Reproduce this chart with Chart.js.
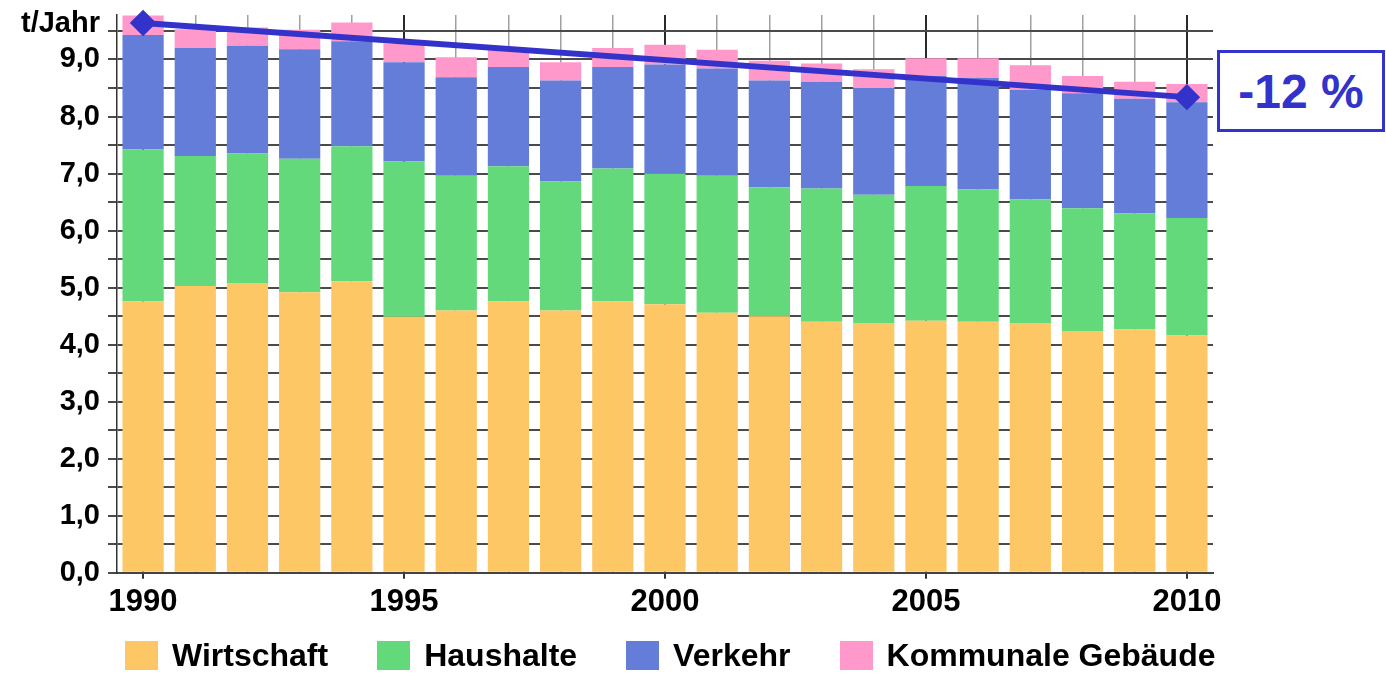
<!DOCTYPE html>
<html lang="de">
<head>
<meta charset="utf-8">
<title>CO2-Emissionen pro Einwohner</title>
<script src="https://cdn.jsdelivr.net/npm/chart.js@4.4.1/dist/chart.umd.min.js"></script>
<style>
  body { margin: 0; background: #fff; font-family: 'Liberation Sans', Arial, sans-serif; }
  #wrap { position: relative; width: 1386px; height: 673px; overflow: hidden; }
  #chart { position: absolute; left: 0; top: 0; }
  #change-box {
    position: absolute; left: 1217px; top: 50px; width: 168px; height: 82px;
    box-sizing: border-box; border: 3px solid #3333cc; background: #fff;
    display: flex; align-items: center; justify-content: center;
    color: #3333cc; font-weight: bold; font-size: 48px;
  }
  #legend {
    position: absolute; left: 125px; top: 641px;
    display: flex; gap: 49px; align-items: center;
  }
  .legend-item { display: flex; align-items: center; }
  .legend-box { width: 33px; height: 29px; margin-right: 14px; }
  .legend-text { font-weight: bold; font-size: 32px; color: #000; line-height: 29px; }
</style>
</head>
<body>
<div id="wrap">
  <canvas id="chart" width="1386" height="673"></canvas>
  <div id="change-box">-12 %</div>
  <div id="legend"></div>
</div>
<script>
// Data (t/Jahr pro Einwohner)
const years = ['1990', '1991', '1992', '1993', '1994', '1995', '1996', '1997', '1998', '1999',
  '2000', '2001', '2002', '2003', '2004', '2005', '2006', '2007', '2008', '2009', '2010'];
const wirtschaft = [4.76, 5.03, 5.08, 4.92, 5.11, 4.49, 4.60, 4.76, 4.60, 4.76,
  4.71, 4.56, 4.50, 4.40, 4.38, 4.42, 4.40, 4.38, 4.24, 4.27, 4.16];
const haushalte = [2.66, 2.28, 2.27, 2.34, 2.37, 2.72, 2.36, 2.37, 2.26, 2.33,
  2.29, 2.40, 2.26, 2.34, 2.25, 2.36, 2.32, 2.17, 2.15, 2.03, 2.06];
const verkehr = [2.01, 1.89, 1.89, 1.92, 1.84, 1.74, 1.73, 1.74, 1.77, 1.78,
  1.91, 1.88, 1.87, 1.87, 1.87, 1.93, 1.96, 1.92, 2.02, 2.01, 2.03];
const kommunal = [0.34, 0.33, 0.32, 0.34, 0.33, 0.33, 0.35, 0.31, 0.32, 0.33,
  0.35, 0.33, 0.35, 0.32, 0.33, 0.31, 0.34, 0.43, 0.30, 0.30, 0.32];

// Trend line 1990 -> 2010
const trendYears = ['1990', '2010'];
const trendValues = [9.64, 8.34];

// Y axis
const yTicks = [0, 0.5, 1, 1.5, 2, 2.5, 3, 3.5, 4, 4.5, 5, 5.5, 6, 6.5, 7, 7.5, 8, 8.5, 9, 9.5];
const yMax = 9.78;
const unitTick = 9.63;
const unitLabel = 't/Jahr';

const FONT = "'Liberation Sans', Arial, sans-serif";
const trendColor = '#3333cc';

const chart = new Chart(document.getElementById('chart'), {
  type: 'bar',
  data: {
    labels: years,
    datasets: [
      { label: 'Wirtschaft', data: wirtschaft, backgroundColor: '#fdc766' },
      { label: 'Haushalte', data: haushalte, backgroundColor: '#64d97b' },
      { label: 'Verkehr', data: verkehr, backgroundColor: '#637dd9' },
      { label: 'Kommunale Gebäude', data: kommunal, backgroundColor: '#ff99cc' },
      {
        type: 'line',
        label: 'Trend',
        data: trendYears.map((y, i) => ({ x: y, y: trendValues[i] })),
        stack: 'trend',
        order: -1,
        borderColor: trendColor,
        borderWidth: 6,
        pointStyle: 'rectRot',
        pointRadius: 9,
        pointBackgroundColor: trendColor,
        pointBorderColor: trendColor,
        clip: false
      }
    ]
  },
  options: {
    responsive: false,
    animation: false,
    layout: { padding: { top: 13, right: 173, bottom: 47, left: 0 } },
    datasets: {
      bar: { barPercentage: 0.79, categoryPercentage: 1, borderWidth: 0 }
    },
    plugins: {
      legend: { display: false },
      tooltip: { enabled: false }
    },
    scales: {
      x: {
        stacked: true,
        offset: true,
        border: { display: true, color: '#444', width: 2 },
        grid: {
          offset: false,
          color: ctx => ctx.index % 5 === 0 ? '#2a2a2a' : '#a0a0a0',
          lineWidth: ctx => ctx.index % 5 === 0 ? 2 : 1.5,
          tickColor: ctx => ctx.index % 5 === 0 ? '#333' : 'rgba(0,0,0,0)',
          tickLength: 6
        },
        ticks: {
          autoSkip: false,
          maxRotation: 0,
          minRotation: 0,
          padding: 5,
          color: '#000',
          font: { family: FONT, size: 31, weight: 'bold' },
          callback: (value, index) => index % 5 === 0 ? years[index] : ''
        }
      },
      y: {
        stacked: true,
        min: 0,
        max: yMax,
        border: { display: true, color: '#333', width: 1.5 },
        afterBuildTicks: scale => {
          scale.ticks = yTicks.concat([unitTick]).map(v => ({ value: v }));
        },
        afterFit: scale => {
          scale.width = 117;
          scale.paddingTop = 0;
          scale.paddingBottom = 0;
        },
        grid: {
          color: ctx => ctx.tick && ctx.tick.value === unitTick ? 'rgba(0,0,0,0)' : '#4a4a4a',
          lineWidth: 2,
          tickLength: 9
        },
        ticks: {
          autoSkip: false,
          padding: 8,
          color: '#000',
          font: { family: FONT, size: 29, weight: 'bold' },
          callback: value => {
            if (value === unitTick) return unitLabel;
            if (Number.isInteger(value)) return value.toFixed(1).replace('.', ',');
            return '';
          }
        }
      }
    }
  }
});

// Legend below the chart, built from the bar datasets
function buildLegend() {
  const container = document.getElementById('legend');
  container.innerHTML = chart.data.datasets
    .filter(ds => ds.type !== 'line')
    .map(ds => `
      <div class="legend-item">
        <div class="legend-box" style="background:${ds.backgroundColor}"></div>
        <span class="legend-text">${ds.label}</span>
      </div>
    `).join('');
}

buildLegend();
</script>
</body>
</html>
